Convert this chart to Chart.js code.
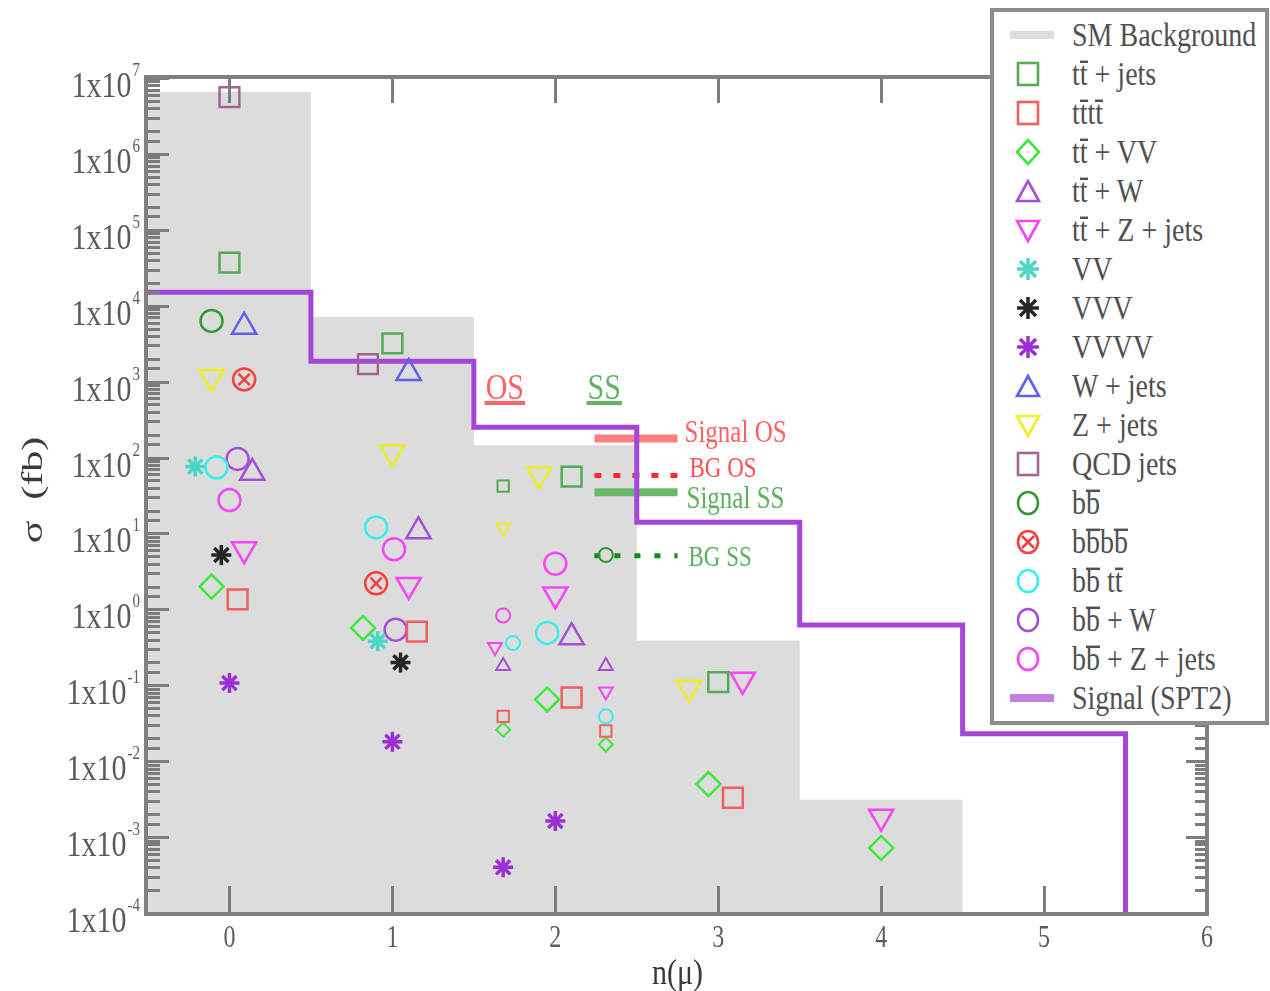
<!DOCTYPE html>
<html lang="en"><head>
<meta charset="utf-8">
<title>σ vs n(μ)</title>
<script src="https://cdn.jsdelivr.net/npm/chart.js@4.4.3/dist/chart.umd.min.js"></script>
<style>
  *{box-sizing:border-box;margin:0;padding:0}
  body{background:#fff;width:1270px;height:991px;overflow:hidden;position:relative;font-family:"Liberation Serif","DejaVu Serif",serif}
  #c{position:absolute;left:0;top:0}
  .legend{position:absolute;left:990px;top:8px;width:279px;height:717px;background:#fff;border:4px solid #8c8c8c;z-index:2}
  .row{position:absolute;left:0;width:270px;height:40px}
  .row svg{position:absolute;left:19px;top:5px}
  .lab{position:absolute;left:78px;top:0;line-height:40px;font-size:28px;color:#505050;white-space:nowrap;transform:scaleY(1.22);transform-origin:left center}
  .ov{position:relative}
  .ov::before{content:'';position:absolute;left:0;right:0;top:5px;border-top:2px solid currentColor}
</style>
</head><body>
<canvas id="c" width="1270" height="991"></canvas>
<div class="legend" id="legend"></div>
<script>
// axis range
const yMin = 1e-4, yMax = 1e7
const xMin = -0.5, xMax = 6
const xTickValues = [0, 1, 2, 3, 4, 5, 6]

// SM background and signal, per n(μ) bin
const binEdges = [-0.5, 0.5, 1.5, 2.5, 3.5, 4.5, 5.5]
const smBackground = [6.6e6, 7.1e3, 145, 0.39, 3.1e-3]
const signalSPT2 = [1.5e4, 1.86e3, 250, 14, 0.62, 0.023]

// processes: [n(μ) position, σ in fb]; "Small" = the OS (n≈1.7) / SS (n≈2.3) points
const ttJets = [[0, 3.7e4], [1, 3.2e3], [2.1, 56], [3, 0.11]]
const ttJetsSmall = [[1.68, 42]]
const tttt = [[0.05, 1.35], [1.15, 0.51], [2.1, 0.069], [3.09, 3.3e-3]]
const ttttSmall = [[1.68, 0.039], [2.31, 0.025]]
const ttVV = [[-0.11, 2.0], [0.82, 0.57], [1.95, 0.065], [2.94, 5.0e-3], [4, 7.2e-4]]
const ttVVSmall = [[1.68, 0.026], [2.31, 0.0166]]
const ttW = [[0.14, 63], [1.16, 10.7], [2.1, 0.43]]
const ttWSmall = [[1.68, 0.18], [2.31, 0.18]]
const ttZ = [[0.09, 6.2], [1.1, 2.1], [2, 1.57], [3.15, 0.118], [4, 1.86e-3]]
const ttZSmall = [[1.63, 0.32], [2.31, 0.083]]
const vv = [[-0.21, 76], [0.91, 0.38]]
const vvv = [[-0.05, 5.2], [1.05, 0.20]]
const vvvv = [[0, 0.107], [1, 0.018], [1.68, 4.0e-4], [2, 1.63e-3]]
const wJets = [[0.09, 5.3e3], [1.1, 1.3e3]]
const zJets = [[-0.11, 1.15e3], [1, 117], [1.9, 60], [2.82, 0.093]]
const zJetsSmall = [[1.68, 12]]
const qcdJets = [[0, 5.6e6], [0.85, 1.7e3]]
const bb = [[-0.11, 6.3e3]]
const bbSmall = [[2.31, 5.2]]
const bbbb = [[0.09, 1.07e3], [0.9, 2.2]]
const bbtt = [[-0.08, 74], [0.9, 12], [1.95, 0.49]]
const bbttSmall = [[1.74, 0.36], [2.31, 0.039]]
const bbW = [[0.05, 96], [1.02, 0.54]]
const bbZ = [[0, 27.5], [1.01, 6.2], [2, 4.0]]
const bbZSmall = [[1.68, 0.83]]

const SHAPES = {
  rect:    { style: 'rect', r: 14, rs: 8 },
  circle:  { style: 'circle', r: 11, rs: 7 },
  diamond: { style: 'rectRot', r: 12, rs: 7 },
  up:      { style: 'triangle', r: 14, rs: 8 },
  down:    { style: 'triangle', r: 14, rs: 8, rot: 180 },
  star:    { style: 'star', r: 10, rs: 6 },
  circleX: { style: 'circle', r: 11, rs: 7 },
}

const ov = s => `<span class="ov">${s}</span>`
const processes = [
  { label: `t${ov('t')} + jets`, pts: ttJets, small: ttJetsSmall, shape: 'rect', color: '#55aa55' },
  { label: `t${ov('t')}t${ov('t')}`, pts: tttt, small: ttttSmall, shape: 'rect', color: '#f25e5e' },
  { label: `t${ov('t')} + VV`, pts: ttVV, small: ttVVSmall, shape: 'diamond', color: '#3fe83f' },
  { label: `t${ov('t')} + W`, pts: ttW, small: ttWSmall, shape: 'up', color: '#a64ed6' },
  { label: `t${ov('t')} + Z + jets`, pts: ttZ, small: ttZSmall, shape: 'down', color: '#f744f7' },
  { label: 'VV', pts: vv, small: [], shape: 'star', color: '#4cd6c6' },
  { label: 'VVV', pts: vvv, small: [], shape: 'star', color: '#262626' },
  { label: 'VVVV', pts: vvvv, small: [], shape: 'star', color: '#9a2fd6' },
  { label: 'W + jets', pts: wJets, small: [], shape: 'up', color: '#5e5ef2' },
  { label: 'Z + jets', pts: zJets, small: zJetsSmall, shape: 'down', color: '#eeee22' },
  { label: 'QCD jets', pts: qcdJets, small: [], shape: 'rect', color: '#a0668f' },
  { label: `b${ov('b')}`, pts: bb, small: bbSmall, shape: 'circle', color: '#339933' },
  { label: `b${ov('b')}b${ov('b')}`, pts: bbbb, small: [], shape: 'circleX', color: '#f54040' },
  { label: `b${ov('b')} t${ov('t')}`, pts: bbtt, small: bbttSmall, shape: 'circle', color: '#3aeeee' },
  { label: `b${ov('b')} + W`, pts: bbW, small: [], shape: 'circle', color: '#a64ed6' },
  { label: `b${ov('b')} + Z + jets`, pts: bbZ, small: bbZSmall, shape: 'circle', color: '#f744f7' },
]

function stepPoints(vals) {
  const pts = vals.map((v, i) => ({ x: binEdges[i], y: v }))
  pts.push({ x: binEdges[vals.length], y: yMin })
  return pts
}

function markerSet(pts, shape, color, small) {
  const s = SHAPES[shape]
  return {
    type: 'scatter',
    data: pts.map(([x, y]) => ({ x, y })),
    order: 1,
    showLine: false,
    pointStyle: s.style,
    pointRadius: small ? s.rs : s.r,
    pointHoverRadius: small ? s.rs : s.r,
    pointRotation: s.rot || 0,
    pointBorderColor: color,
    pointBackgroundColor: 'rgba(0,0,0,0)',
    pointBorderWidth: shape === 'star' ? 3.5 : (small ? 2 : 2.5),
    borderColor: color,
    backgroundColor: 'rgba(0,0,0,0)',
  }
}

const datasets = [
  { type: 'line', label: 'SM Background', data: stepPoints(smBackground), stepped: true, fill: 'start',
    backgroundColor: '#dcdcdc', borderColor: '#dcdcdc', borderWidth: 0, pointRadius: 0, order: 3 },
  { type: 'line', label: 'Signal (SPT2)', data: stepPoints(signalSPT2), stepped: true, fill: false,
    borderColor: '#a446d8', borderWidth: 5, pointRadius: 0, order: 2 },
]
processes.forEach(p => {
  datasets.push(markerSet(p.pts, p.shape, p.color, false))
  if (p.small.length) datasets.push(markerSet(p.small, p.shape, p.color, true))
  if (p.shape === 'circleX') {
    const cross = markerSet(p.pts, p.shape, p.color, false)
    cross.pointStyle = 'crossRot'
    cross.pointRadius = 8
    cross.pointHoverRadius = 8
    datasets.push(cross)
  }
})

function stretched(ctx, txt, x, y, sy, align) {
  ctx.save()
  ctx.translate(x, y)
  ctx.scale(1, sy)
  ctx.textAlign = align
  ctx.textBaseline = 'alphabetic'
  ctx.fillText(txt, 0, 0)
  ctx.restore()
}

const SERIF = '"Liberation Serif", "DejaVu Serif", serif'

// OS / SS key drawn just above the grey background
const osssKey = {
  id: 'osssKey',
  afterDatasetDraw(chart, args) {
    if (args.index !== 0) return
    const { ctx, scales: { x, y } } = chart
    ctx.save()
    const red = '#ff6464', green = '#62b462'
    const heads = [['OS', 1.69, red], ['SS', 2.3, green]]
    ctx.font = '30px ' + SERIF
    heads.forEach(([t, n, c]) => {
      const px = x.getPixelForValue(n), py = y.getPixelForValue(800)
      ctx.fillStyle = c
      stretched(ctx, t, px, py + 10, 1.2, 'center')
      const w = ctx.measureText(t).width
      ctx.fillRect(px - w / 2 - 1, py + 12, w + 2, 4)
    })
    const x0 = x.getPixelForValue(2.24), x1 = x.getPixelForValue(2.75)
    // label, σ level, line colour, text colour, dash, text baseline offset, text gap
    const keys = [
      ['Signal OS', 178, '#ff7f7f', '#ff6060', [], 3, 7],
      ['BG OS', 58, '#ff2a2a', '#ff5050', [7, 12], 1, 12],
      ['Signal SS', 35, '#6ab86a', '#5cb05c', [], 16, 9],
      ['BG SS', 5.1, '#108c10', '#5cb05c', [6, 14], 10, 11],
    ]
    keys.forEach(([t, v, lc, tc, dash, dy, gap]) => {
      const py = y.getPixelForValue(v)
      ctx.strokeStyle = lc
      ctx.lineWidth = dash.length ? 5 : 8
      ctx.setLineDash(dash)
      ctx.beginPath(); ctx.moveTo(x0, py); ctx.lineTo(x1, py); ctx.stroke()
      ctx.setLineDash([])
      ctx.fillStyle = tc
      ctx.font = (t.startsWith('BG') ? '23px ' : '25px ') + SERIF
      stretched(ctx, t, x1 + gap, py + dy, 1.25, 'left')
    })
    ctx.restore()
  }
}

// frame, inward ticks, tick labels and axis titles
const frame = {
  id: 'frame',
  afterDatasetsDraw(chart) {
    const { ctx, chartArea: a, scales: { x, y } } = chart
    ctx.save()
    ctx.strokeStyle = '#7c7c7c'
    ctx.lineWidth = 3
    ctx.beginPath()
    y.ticks.forEach(t => {
      const p = Math.round(y.getPixelForValue(t.value)) + 0.5
      const lg = Math.log10(t.value)
      const len = Math.abs(lg - Math.round(lg)) < 1e-6 ? 21 : 12
      ctx.moveTo(a.left, p); ctx.lineTo(a.left + len, p)
      ctx.moveTo(a.right, p); ctx.lineTo(a.right - len, p)
    })
    xTickValues.forEach(v => {
      const p = Math.round(x.getPixelForValue(v)) + 0.5
      ctx.moveTo(p, a.bottom); ctx.lineTo(p, a.bottom - 27)
      ctx.moveTo(p, a.top); ctx.lineTo(p, a.top + 25)
    })
    ctx.stroke()
    ctx.strokeStyle = '#808080'
    ctx.lineWidth = 4
    ctx.strokeRect(a.left - 2, a.top - 1, a.right - a.left + 2, a.bottom - a.top + 2)

    // y labels 1x10^n
    ctx.fillStyle = '#5a5a5a'
    y.ticks.forEach(t => {
      const lg = Math.log10(t.value)
      if (Math.abs(lg - Math.round(lg)) > 1e-6) return
      const p = y.getPixelForValue(t.value)
      const sup = String(Math.round(lg))
      ctx.font = '15px ' + SERIF
      const sw = ctx.measureText(sup).width
      ctx.font = '30px ' + SERIF
      const mw = ctx.measureText('1x10').width
      const right = 140
      stretched(ctx, '1x10', right - sw - 1 - mw, p + 19, 1.2, 'left')
      ctx.font = '15px ' + SERIF
      stretched(ctx, sup, right - sw, p - 2, 1.2, 'left')
    })
    // x labels
    ctx.font = '24px ' + SERIF
    xTickValues.forEach(v => {
      stretched(ctx, String(v), x.getPixelForValue(v), 947, 1.3, 'center')
    })
    // axis titles
    ctx.fillStyle = '#3a3a3a'
    ctx.font = '30px ' + SERIF
    stretched(ctx, 'n(μ)', (a.left + a.right) / 2, 984, 1.2, 'center')
    ctx.save()
    ctx.translate(42, 490)
    ctx.rotate(-Math.PI / 2)
    ctx.scale(1.4, 1)
    ctx.textAlign = 'center'
    ctx.fillText('σ  (fb)', 0, 0)
    ctx.restore()
    ctx.restore()
  }
}

new Chart(document.getElementById('c'), {
  type: 'scatter',
  data: { datasets },
  options: {
    responsive: false,
    animation: false,
    devicePixelRatio: 1,
    layout: { padding: { left: 0, top: 78, right: 63, bottom: 0 } },
    plugins: { legend: { display: false }, tooltip: { enabled: false } },
    scales: {
      x: { type: 'linear', min: xMin, max: xMax, ticks: { display: false, stepSize: 1 },
           grid: { display: false }, border: { display: false }, afterFit: s => { s.height = 78 } },
      y: { type: 'logarithmic', min: yMin, max: yMax, ticks: { display: false },
           grid: { display: false }, border: { display: false }, afterFit: s => { s.width = 148 } },
    },
  },
  plugins: [osssKey, frame],
})

// legend box
function markerSvg(shape, c) {
  const st = `fill="none" stroke="${c}" stroke-width="2.6"`
  let body = ''
  if (shape === 'rect') body = `<rect x="5" y="4" width="20" height="22" ${st}/>`
  else if (shape === 'circle') body = `<ellipse cx="15" cy="15" rx="10" ry="11" ${st}/>`
  else if (shape === 'circleX') body = `<ellipse cx="15" cy="15" rx="10" ry="11" ${st}/><path d="M9 9L21 21M21 9L9 21" ${st}/>`
  else if (shape === 'diamond') body = `<polygon points="15,3 26,15 15,27 4,15" ${st}/>`
  else if (shape === 'up') body = `<polygon points="15,5 26,25 4,25" ${st}/>`
  else if (shape === 'down') body = `<polygon points="4,6 26,6 15,26" ${st}/>`
  else if (shape === 'star') body = `<path d="M15 4V26M4 15H26M7 7L23 23M23 7L7 23" fill="none" stroke="${c}" stroke-width="3.5"/>`
  else if (shape === 'line') body = `<rect x="-3" y="11" width="44" height="8" fill="${c}"/>`
  return `<svg width="30" height="30" viewBox="0 0 30 30" overflow="visible">${body}</svg>`
}

const legendRows = [{ label: 'SM Background', shape: 'line', color: '#dcdcdc' }]
  .concat(processes)
  .concat([{ label: 'Signal (SPT2)', shape: 'line', color: '#c47ee4' }])
document.getElementById('legend').innerHTML = legendRows.map((r, i) =>
  `<div class="row" style="top:${3 + 39 * i}px">${markerSvg(r.shape, r.color)}<span class="lab">${r.label}</span></div>`
).join('')
</script>
</body></html>
